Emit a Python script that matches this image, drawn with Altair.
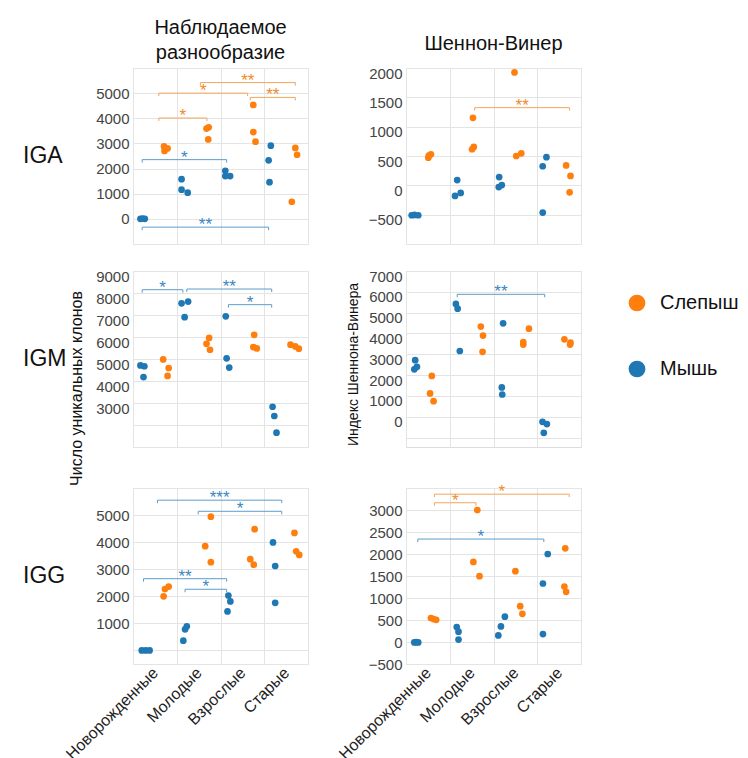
import json
import altair as alt
import pandas as pd

FONT = "Liberation Sans"
CATEGORIES = ["Новорожденные", "Молодые", "Взрослые", "Старые"]
MOUSE = "Мышь"
RAT = "Слепыш"
ORANGE = "#ff7f0e"
BLUE = "#1f77b4"
BRACKET_COLOR = {RAT: "#f3a55e", MOUSE: "#5b9dcc"}
STAR_COLOR = {RAT: "#f08a2c", MOUSE: "#3a86c2"}

# ---------------- IGA, observed diversity ----------------
iga_obs_mouse = [[0, 10, 0], [1580, 1160, 1040], [1910, 1700, 1700], [2910, 2330, 1460]]
iga_obs_mouse_pos = [[0.17, 0.22, 0.27], [0.11, 0.11, 0.25], [0.11, 0.11, 0.22], [0.15, 0.10, 0.12]]
iga_obs_rat = [[2880, 2800, 2700], [3590, 3640, 3160], [4530, 3450, 3070], [2820, 2550, 680]]
iga_obs_rat_pos = [[0.71, 0.79, 0.72], [0.68, 0.73, 0.72], [0.75, 0.75, 0.80], [0.71, 0.75, 0.63]]
iga_obs_brackets = [(0.59, 1.69, 4010, "*", RAT), (0.59, 2.62, 5000, "*", RAT),
                    (1.54, 3.71, 5420, "**", RAT), (2.68, 3.71, 4830, "**", RAT),
                    (0.21, 2.14, 2355, "*", MOUSE), (0.21, 3.10, -330, "**", MOUSE)]

# ---------------- IGA, Shannon-Wiener ----------------
iga_sw_mouse = [[-510, -505, -510], [90, -180, -130], [140, -30, 5], [480, 325, -465]]
iga_sw_mouse_pos = [[0.13, 0.19, 0.28], [0.17, 0.12, 0.25], [0.13, 0.12, 0.19], [0.21, 0.125, 0.125]]
iga_sw_rat = [[470, 530, 505], [1150, 615, 655], [1925, 500, 545], [340, 160, -120]]
iga_sw_rat_pos = [[0.51, 0.57, 0.52], [0.53, 0.51, 0.55], [0.48, 0.52, 0.635], [0.66, 0.76, 0.74]]
iga_sw_brackets = [(1.57, 3.74, 1324, "**", RAT)]

# ---------------- IGM, observed diversity ----------------
igm_obs_mouse = [[4710, 4670, 4180], [7530, 7610, 6900], [6940, 5030, 4610], [2830, 2410, 1650]]
igm_obs_mouse_pos = [[0.17, 0.26, 0.24], [0.11, 0.26, 0.18], [0.12, 0.14, 0.20], [0.19, 0.23, 0.28]]
igm_obs_rat = [[4980, 4590, 4230], [5960, 5690, 5420], [6100, 5540, 5480], [5650, 5570, 5470]]
igm_obs_rat_pos = [[0.69, 0.815, 0.79], [0.74, 0.68, 0.76], [0.77, 0.75, 0.83], [0.60, 0.71, 0.79]]
igm_obs_brackets = [(0.21, 1.14, 8150, "*", MOUSE), (1.23, 3.17, 8180, "**", MOUSE),
                    (2.18, 3.17, 7470, "*", MOUSE)]

# ---------------- IGM, Shannon-Wiener ----------------
igm_sw_mouse = [[2720, 2280, 2400], [5420, 5190, 3160], [4490, 1410, 1070], [-240, -350, -770]]
igm_sw_mouse_pos = [[0.21, 0.19, 0.25], [0.14, 0.18, 0.23], [0.22, 0.19, 0.20], [0.12, 0.22, 0.15]]
igm_sw_rat = [[1960, 1120, 750], [4330, 3900, 3120], [4230, 3590, 3470], [3720, 3560, 3470]]
igm_sw_rat_pos = [[0.59, 0.55, 0.63], [0.71, 0.76, 0.75], [0.81, 0.68, 0.68], [0.62, 0.76, 0.75]]
igm_sw_brackets = [(1.17, 3.17, 5880, "**", MOUSE)]

# ---------------- IGG, observed diversity ----------------
igg_obs_mouse = [[0, 0, 0], [360, 780, 890], [2030, 1810, 1440], [3990, 3120, 1760]]
igg_obs_mouse_pos = [[0.20, 0.29, 0.38], [0.15, 0.19, 0.23], [0.18, 0.225, 0.16], [0.20, 0.25, 0.25]]
igg_obs_rat = [[2000, 2270, 2360], [3850, 4940, 3260], [4480, 3370, 3170], [4340, 3660, 3530]]
igg_obs_rat_pos = [[0.70, 0.73, 0.815], [0.65, 0.78, 0.78], [0.78, 0.68, 0.76], [0.69, 0.73, 0.80]]
igg_obs_brackets = [(0.56, 3.40, 5550, "***", MOUSE), (1.49, 3.40, 5140, "*", MOUSE),
                    (0.24, 2.14, 2650, "**", MOUSE), (1.19, 2.14, 2260, "*", MOUSE)]

# ---------------- IGG, Shannon-Wiener ----------------
igg_sw_mouse = [[-10, -5, -10], [340, 235, 55], [575, 355, 150], [2000, 1330, 180]]
igg_sw_mouse_pos = [[0.19, 0.23, 0.28], [0.16, 0.20, 0.20], [0.26, 0.17, 0.11], [0.24, 0.13, 0.13]]
igg_sw_rat = [[545, 520, 505], [3000, 1820, 1495], [1610, 815, 640], [2130, 1260, 1140]]
igg_sw_rat_pos = [[0.57, 0.63, 0.69], [0.63, 0.54, 0.68], [0.50, 0.61, 0.66], [0.64, 0.62, 0.66]]
igg_sw_brackets = [(0.65, 3.73, 3360, "*", RAT), (0.65, 1.60, 3165, "*", RAT),
                   (0.27, 3.15, 2340, "*", MOUSE)]


def points_df(mouse_vals, mouse_pos, rat_vals, rat_pos):
    rows = []
    for i, cat in enumerate(CATEGORIES):
        for v, p in zip(mouse_vals[i], mouse_pos[i]):
            rows.append({"x": i + p, "value": v, "species": MOUSE, "cat": cat})
        for v, p in zip(rat_vals[i], rat_pos[i]):
            rows.append({"x": i + p, "value": v, "species": RAT, "cat": cat})
    return pd.DataFrame(rows)


def bracket_df(brackets, tick):
    rows = []
    for x1, x2, y, lab, sp in brackets:
        rows.append({"x1": x1, "x2": x2, "xm": (x1 + x2) / 2, "value": y,
                     "value2": y - tick, "label": lab, "species": sp})
    return pd.DataFrame(rows)


COLOR = alt.Color(
    "species:N",
    scale=alt.Scale(domain=[RAT, MOUSE], range=[ORANGE, BLUE]),
    legend=alt.Legend(title=None, orient="none", legendX=494, legendY=225,
                      symbolType="circle", symbolSize=280, symbolStrokeWidth=0,
                      labelFontSize=20, labelFont=FONT, labelColor="#111",
                      rowPadding=46, labelOffset=13, padding=0),
)

XSCALE = alt.Scale(domain=[0, 4], nice=False, zero=False)
CAT_EXPR = "datum.value < 4 ? " + json.dumps(CATEGORIES, ensure_ascii=False) + "[datum.value] : ''"


def make_panel(mouse, mouse_pos, rat, rat_pos, brackets, domain, grid_vals, label_vals,
               label_offset=0, bottom=False, row_label=None, ytitle=None, ytitle_xy=(0, 0),
               ytitle_size=16, title=None, title_offset=8, extra_bottom=0):
    span = domain[1] - domain[0]
    pts = points_df(mouse, mouse_pos, rat, rat_pos)
    brs = bracket_df(brackets, span * 0.017)

    label_expr = "indexof([%s], datum.value) >= 0 ? datum.label : ''" % ",".join(str(v) for v in label_vals)
    yargs = dict(values=grid_vals, labelExpr=label_expr, format="d", grid=True, ticks=False,
                 domain=False, labelFontSize=15, labelColor="#444", labelPadding=4,
                 labelOffset=label_offset, labelOverlap=False, labelFont=FONT)
    if ytitle:
        yargs.update(title=ytitle, titleX=ytitle_xy[0], titleY=ytitle_xy[1], titleAngle=-90,
                     titleAlign="center", titleBaseline="middle", titleFontSize=ytitle_size,
                     titleFontWeight="normal", titleColor="#111", titleFont=FONT)
    else:
        yargs.update(title=None)
    yaxis = alt.Axis(**yargs)
    yscale = alt.Scale(domain=domain, nice=False, zero=False)

    xaxis = alt.Axis(values=[0, 1, 2, 3, 4], grid=True, ticks=False, domain=False, labels=bottom,
                     labelExpr=CAT_EXPR, labelAngle=-45, labelAlign="right", labelBaseline="middle",
                     labelOffset=22, labelFontSize=16, labelColor="#222", labelPadding=6,
                     labelFlush=False, labelOverlap=False, labelFont=FONT, title=None)

    layers = [
        alt.Chart(pts).mark_circle(size=45, opacity=1).encode(
            x=alt.X("x:Q", scale=XSCALE, axis=xaxis),
            y=alt.Y("value:Q", scale=yscale, axis=yaxis),
            color=COLOR,
        )
    ]
    for sp in [RAT, MOUSE]:
        sub = brs[brs["species"] == sp]
        if len(sub) == 0:
            continue
        c = BRACKET_COLOR[sp]
        layers.append(alt.Chart(sub).mark_rule(color=c, strokeWidth=1).encode(
            x=alt.X("x1:Q", scale=XSCALE, axis=xaxis), x2="x2:Q",
            y=alt.Y("value:Q", scale=yscale, axis=yaxis)))
        for xf in ["x1", "x2"]:
            layers.append(alt.Chart(sub).mark_rule(color=c, strokeWidth=1).encode(
                x=alt.X(xf + ":Q", scale=XSCALE, axis=xaxis),
                y=alt.Y("value:Q", scale=yscale, axis=yaxis), y2="value2:Q"))
        layers.append(alt.Chart(sub).mark_text(color=STAR_COLOR[sp], fontSize=17, font=FONT,
                                               baseline="alphabetic", dy=3).encode(
            x=alt.X("xm:Q", scale=XSCALE, axis=xaxis),
            y=alt.Y("value:Q", scale=yscale, axis=yaxis), text="label:N"))
    if row_label:
        layers.append(alt.Chart(pd.DataFrame({"t": [row_label]})).mark_text(
            align="left", baseline="middle", fontSize=23, font=FONT, color="#111").encode(
            x=alt.value(-110), y=alt.value(88), text="t:N"))
    if extra_bottom:
        # invisible spacer that reserves room below the panel
        layers.append(alt.Chart(pd.DataFrame({"t": [0]})).mark_rule(opacity=0).encode(
            x=alt.value(0), y=alt.value(176), y2=alt.value(176 + extra_bottom)))

    ch = alt.layer(*layers)
    props = dict(width=175, height=176)
    if title:
        props["title"] = alt.TitleParams(text=title, fontSize=20, fontWeight="normal", color="#111",
                                         font=FONT, anchor="middle", offset=title_offset, lineHeight=25)
    return ch.properties(**props)


p1 = make_panel(iga_obs_mouse, iga_obs_mouse_pos, iga_obs_rat, iga_obs_rat_pos, iga_obs_brackets,
                [-1000, 6000], [-1000, 0, 1000, 2000, 3000, 4000, 5000, 6000],
                [0, 1000, 2000, 3000, 4000, 5000], row_label="IGA",
                title=["Наблюдаемое", "разнообразие"], title_offset=-2, extra_bottom=26)
p2 = make_panel(iga_sw_mouse, iga_sw_mouse_pos, iga_sw_rat, iga_sw_rat_pos, iga_sw_brackets,
                [-1000, 2000], [-1000, -500, 0, 500, 1000, 1500, 2000],
                [-500, 0, 500, 1000, 1500, 2000], label_offset=5,
                title="Шеннон-Винер", title_offset=12)
p3 = make_panel(igm_obs_mouse, igm_obs_mouse_pos, igm_obs_rat, igm_obs_rat_pos, igm_obs_brackets,
                [1000, 9000], [1000, 2000, 3000, 4000, 5000, 6000, 7000, 8000, 9000],
                [3000, 4000, 5000, 6000, 7000, 8000, 9000], label_offset=5, row_label="IGM",
                ytitle="Число уникальных клонов", ytitle_xy=(-57, 117), ytitle_size=16)
p4 = make_panel(igm_sw_mouse, igm_sw_mouse_pos, igm_sw_rat, igm_sw_rat_pos, igm_sw_brackets,
                [-1450, 7000], [-1000, 0, 1000, 2000, 3000, 4000, 5000, 6000, 7000],
                [0, 1000, 2000, 3000, 4000, 5000, 6000, 7000], label_offset=5,
                ytitle="Индекс Шеннона-Винера", ytitle_xy=(-53, 93), ytitle_size=14)
p5 = make_panel(igg_obs_mouse, igg_obs_mouse_pos, igg_obs_rat, igg_obs_rat_pos, igg_obs_brackets,
                [-500, 6000], [-500, 0, 1000, 2000, 3000, 4000, 5000, 6000],
                [1000, 2000, 3000, 4000, 5000], bottom=True, row_label="IGG")
p6 = make_panel(igg_sw_mouse, igg_sw_mouse_pos, igg_sw_rat, igg_sw_rat_pos, igg_sw_brackets,
                [-500, 3500], [-500, 0, 500, 1000, 1500, 2000, 2500, 3000, 3500],
                [-500, 0, 500, 1000, 1500, 2000, 2500, 3000], bottom=True)

row1 = alt.hconcat(p1, p2, spacing=98, bounds="flush")
row2 = alt.hconcat(p3, p4, spacing=98, bounds="flush")
row3 = alt.hconcat(p5, p6, spacing=98, bounds="flush")

chart = alt.vconcat(row1, row2, row3, spacing=-6, bounds="full").properties(
    padding={"left": 14, "top": 9, "right": 0, "bottom": 0}
).configure_view(stroke="#dcdcdc", strokeWidth=1).configure_axis(
    gridColor="#e4e4e4", gridWidth=1
)

chart.save("out.html", embed_options={"renderer": "svg", "actions": False})
